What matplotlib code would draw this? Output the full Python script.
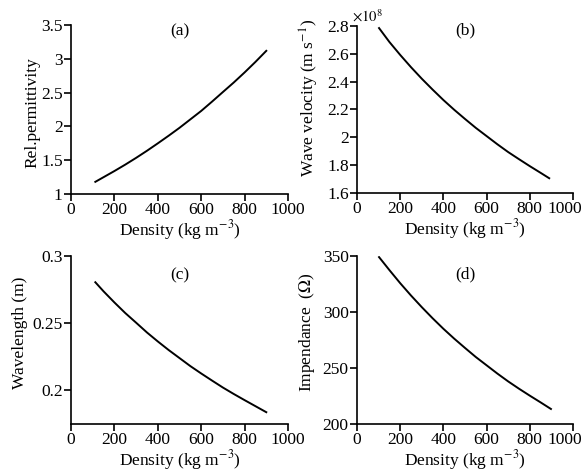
import matplotlib
matplotlib.use("Agg")
import matplotlib.pyplot as plt
from matplotlib.ticker import FuncFormatter
from matplotlib.transforms import ScaledTranslation

plt.rcParams['font.family'] = ['Liberation Serif', 'DejaVu Serif']
plt.rcParams['mathtext.fontset'] = 'stix'
plt.rcParams['font.size'] = 12.5

# values
density_ac = [112, 150, 200, 250, 300, 350, 400, 450, 500, 550, 600, 650, 700, 750, 800, 850, 900]
density_b = [102, 150, 200, 250, 300, 350, 400, 450, 500, 550, 600, 650, 700, 750, 800, 850, 890]
density_d = [102, 150, 200, 250, 300, 350, 400, 450, 500, 550, 600, 650, 700, 750, 800, 850, 898]
permittivity = [1.18, 1.249, 1.34, 1.435, 1.535, 1.64, 1.75, 1.863, 1.98, 2.105,
                2.23, 2.368, 2.51, 2.651, 2.80, 2.956, 3.12]
velocity_e8 = [2.785, 2.685, 2.592, 2.504, 2.421, 2.343, 2.268, 2.198, 2.132, 2.068,
               2.009, 1.950, 1.894, 1.843, 1.793, 1.745, 1.706]
wavelength = [0.2804, 0.2736, 0.2653, 0.2574, 0.2502, 0.2429, 0.2362, 0.2298, 0.2238,
              0.2178, 0.2123, 0.2070, 0.2018, 0.1970, 0.1924, 0.1879, 0.1834]
impedance = [349, 337.4, 325.7, 314.7, 304.3, 294.4, 285.0, 276.2, 267.9, 259.8,
             252.4, 245.0, 238.0, 231.5, 225.3, 219.3, 213.4]

fig = plt.figure(figsize=(5.87, 4.75), dpi=100)
ax_a = fig.add_axes([0.121, 0.5916, 0.3696, 0.3554])
ax_b = fig.add_axes([0.6082, 0.5937, 0.3679, 0.3516])
ax_c = fig.add_axes([0.121, 0.1074, 0.3696, 0.3537])
ax_d = fig.add_axes([0.6082, 0.1074, 0.3679, 0.3537])

fmt = FuncFormatter(lambda v, p: ('%g' % round(v, 4)))

def style(ax, ylo, yhi, yticks, letter, ly, ylab, lx, lyc, shift_last=False):
    ax.set_xlim(0, 1000)
    ax.set_xticks([0, 200, 400, 600, 800, 1000])
    ax.set_ylim(ylo, yhi)
    ax.set_yticks(yticks)
    ax.yaxis.set_major_formatter(fmt)
    for s in ['top', 'right']:
        ax.spines[s].set_visible(False)
    for s in ['left', 'bottom']:
        ax.spines[s].set_linewidth(1.2)
    ax.tick_params(direction='out', length=5, width=1.2, pad=1)
    ax.set_xlabel('Density (kg m$^{-3}$)', labelpad=0)
    ax.set_ylabel(ylab)
    ax.yaxis.set_label_coords(lx, lyc)
    ax.text(0.5, ly, letter, transform=ax.transAxes, ha='center', va='center')
    if shift_last:
        # right-hand panels: the "1000" label is nudged left to stay inside the figure
        lab = ax.xaxis.get_major_ticks()[-1].label1
        lab.set_transform(lab.get_transform() + ScaledTranslation(-6 / 72, 0, fig.dpi_scale_trans))

ax_a.plot(density_ac, permittivity, color='black', lw=1.4)
style(ax_a, 1, 3.5, [1, 1.5, 2, 2.5, 3, 3.5], '(a)', 0.964, 'Rel.permittivity', -0.143, 0.485)

ax_b.plot(density_b, velocity_e8, color='black', lw=1.4)
style(ax_b, 1.6, 2.8, [1.6, 1.8, 2, 2.2, 2.4, 2.6, 2.8], '(b)', 0.976,
      'Wave velocity (m s$^{-1}$)', -0.165, 0.57, shift_last=True)
ax_b.text(0.046, 1.06, r'$\times10^8$', transform=ax_b.transAxes, ha='center', va='center', fontsize=10.5)

ax_c.plot(density_ac, wavelength, color='black', lw=1.4)
style(ax_c, 0.1746, 0.3, [0.2, 0.25, 0.3], '(c)', 0.887, 'Wavelength (m)', -0.198, 0.54)

ax_d.plot(density_d, impedance, color='black', lw=1.4)
style(ax_d, 200, 350, [200, 250, 300, 350], '(d)', 0.89, r'Impendance  ($\Omega$)', -0.185, 0.548,
      shift_last=True)

fig.savefig('out.png', dpi=100)
